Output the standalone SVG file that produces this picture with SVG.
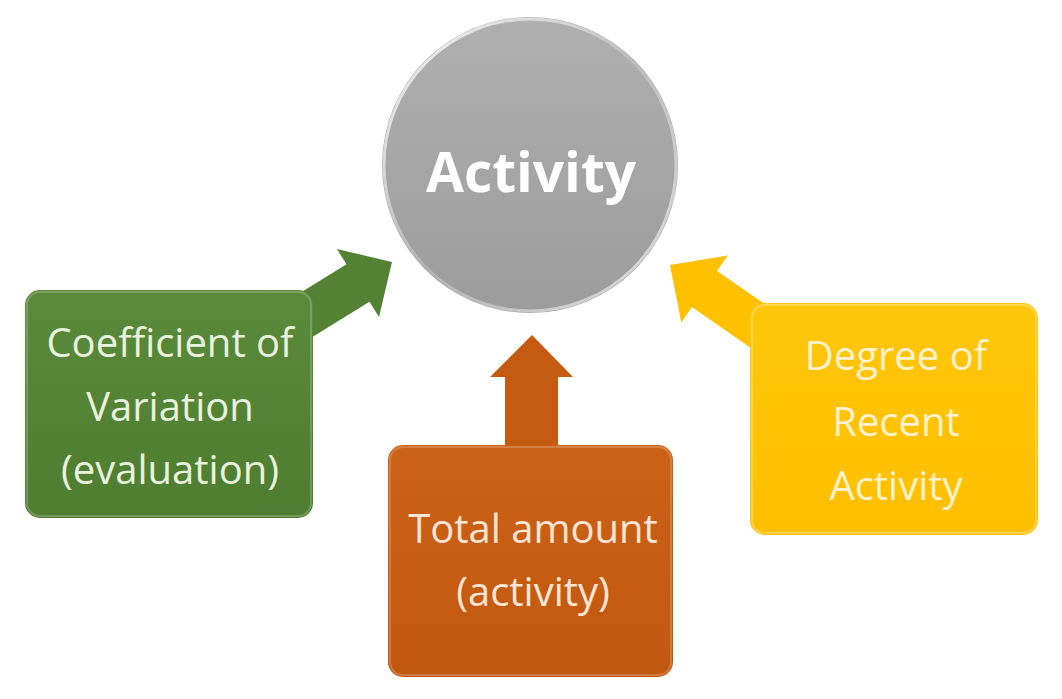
<svg xmlns="http://www.w3.org/2000/svg" width="1062" height="699" viewBox="0 0 1062 699">
<style>
.lbl{font-family:"Open Sans","Noto Sans","Liberation Sans",sans-serif;font-size:40px;text-anchor:middle}
.title{font-family:"Open Sans","Noto Sans","Liberation Sans",sans-serif;font-size:55px;font-weight:bold;fill:#ffffff;text-anchor:middle}
.rim{fill:none;stroke:#ffffff;stroke-width:2}
</style>
<defs>
<linearGradient id="gCircle" x1="0" y1="0" x2="0" y2="1">
<stop offset="0" stop-color="#b0b0b0"/>
<stop offset="1" stop-color="#9c9c9c"/>
</linearGradient>
<linearGradient id="gRim" x1="0" y1="0" x2="1" y2="1">
<stop offset="0" stop-color="#ffffff" stop-opacity="0.9"/>
<stop offset="0.5" stop-color="#ffffff" stop-opacity="0.2"/>
<stop offset="1" stop-color="#ffffff" stop-opacity="0.7"/>
</linearGradient>
<linearGradient id="gGreen" x1="0" y1="0" x2="0" y2="1">
<stop offset="0" stop-color="#5a8a3a"/>
<stop offset="1" stop-color="#4f7d31"/>
</linearGradient>
<linearGradient id="gOrange" x1="0" y1="0" x2="0" y2="1">
<stop offset="0" stop-color="#cc6216"/>
<stop offset="1" stop-color="#c2580f"/>
</linearGradient>
<linearGradient id="gYellow" x1="0" y1="0" x2="0" y2="1">
<stop offset="0" stop-color="#ffc60a"/>
<stop offset="1" stop-color="#ffbf00"/>
</linearGradient>
</defs>
<rect width="1062" height="699" fill="#ffffff"/>

<g id="connectors">
<polygon fill="#548235" points="278.5,306.3 346.5,264.3 337,249 392,262 379,317 369.5,301.7 301.5,343.7"/>
<polygon fill="#c55a11" points="505,450 505,377 490,377 532,335 573,377 558,377 558,450"/>
<polygon fill="#ffc000" points="790.6,322 717.1,270.9 727.7,255.6 670,265 681.3,322.4 691.9,307.1 765.4,358"/>
</g>

<g id="node-activity">
<circle cx="530" cy="165" r="148" fill="url(#gCircle)"/>
<circle cx="530" cy="165" r="146" fill="none" stroke="url(#gRim)" stroke-width="3"/>
<text class="title" x="531" y="192">Activity</text>
</g>

<g id="node-cv">
<rect x="25" y="290" width="288" height="228" rx="15" fill="url(#gGreen)"/>
<rect x="27" y="292" width="284" height="224" rx="13" class="rim" stroke-opacity="0.2"/>
<text class="lbl" fill="#e8f2df" x="170" y="357">Coefficient of</text>
<text class="lbl" fill="#e8f2df" x="170" y="421">Variation</text>
<text class="lbl" fill="#e8f2df" x="170" y="484">(evaluation)</text>
</g>

<g id="node-total">
<rect x="388" y="445" width="285" height="232" rx="15" fill="url(#gOrange)"/>
<rect x="390" y="447" width="281" height="228" rx="13" class="rim" stroke-opacity="0.2"/>
<text class="lbl" fill="#fbe5d6" x="533" y="543">Total amount</text>
<text class="lbl" fill="#fbe5d6" x="533" y="606">(activity)</text>
</g>

<g id="node-recent">
<rect x="750" y="303" width="288" height="232" rx="15" fill="url(#gYellow)"/>
<rect x="752" y="305" width="284" height="228" rx="13" class="rim" stroke-opacity="0.3"/>
<text class="lbl" fill="#fff2cc" x="896" y="370">Degree of</text>
<text class="lbl" fill="#fff2cc" x="896" y="436">Recent</text>
<text class="lbl" fill="#fff2cc" x="896" y="500">Activity</text>
</g>
</svg>
